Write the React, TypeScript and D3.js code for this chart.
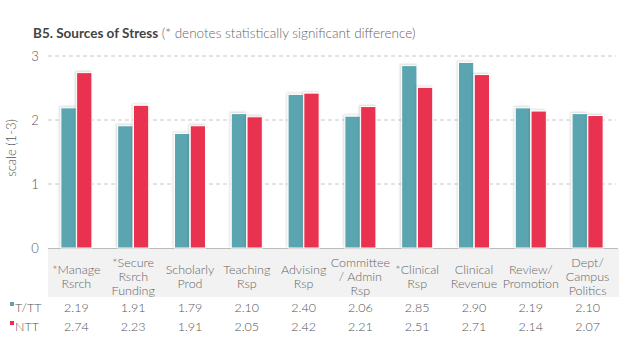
import React from "react";
import * as d3 from "d3";

const categories: string[][] = [
  ["*Manage", "Rsrch"],
  ["*Secure", "Rsrch", "Funding"],
  ["Scholarly", "Prod"],
  ["Teaching", "Rsp"],
  ["Advising", "Rsp"],
  ["Committee", "/ Admin", "Rsp"],
  ["*Clinical", "Rsp"],
  ["Clinical", "Revenue"],
  ["Review/", "Promotion"],
  ["Dept/", "Campus", "Politics"],
];
const seriesNames = ["T/TT", "NTT"];
const tttValues = [2.19, 1.91, 1.79, 2.1, 2.4, 2.06, 2.85, 2.9, 2.19, 2.1];
const nttValues = [2.74, 2.23, 1.91, 2.05, 2.42, 2.21, 2.51, 2.71, 2.14, 2.07];
const yTicks = [0, 1, 2, 3];
const colors = ["#5AA5B0", "#E8314F"];

const W = 636;
const H = 358;
const FONT = "Lato, 'Open Sans', sans-serif";

export default function App() {
  const x = d3
    .scaleBand<number>()
    .domain(d3.range(categories.length))
    .range([48, 616])
    .paddingInner(0)
    .paddingOuter(0);
  const y = d3.scaleLinear().domain([0, 3]).range([248, 56]);
  const sub = d3.scaleBand<number>().domain([0, 1]).range([-16, 16]).padding(0.03);
  const series = [tttValues, nttValues];
  const fmt = d3.format(".2f");

  return (
    <svg
      width={W}
      height={H}
      style={{ position: "absolute", left: 0, top: 0, background: "#fff" }}
      fontFamily={FONT}
    >
      <defs>
        <filter id="sh" x="-30%" y="-10%" width="160%" height="120%">
          <feDropShadow dx="-1" dy="-1" stdDeviation="1.2" floodColor="#000" floodOpacity="0.16" />
        </filter>
      </defs>
      <text x={33} y={38} fontSize={13.5} fill="#444">
        <tspan fontWeight="bold">B5. Sources of Stress</tspan>
        <tspan fill="#666" fontWeight={300}> (* denotes statistically significant difference)</tspan>
      </text>

      {yTicks.filter((t) => t > 0).map((t) => (
        <line
          key={t}
          x1={48}
          x2={616}
          y1={y(t)}
          y2={y(t)}
          stroke="#c8c8c8"
          strokeDasharray="4,3"
          strokeWidth={1}
        />
      ))}
      {yTicks.map((t) => (
        <text key={t} x={35} y={y(t) + 5} fontSize={13} fill="#555" fontWeight={300} textAnchor="middle">
          {t}
        </text>
      ))}
      <text
        transform={`translate(16,${(y(0) + y(3)) / 2 - 4}) rotate(-90)`}
        fontSize={13}
        fill="#555"
        fontWeight={300}
        textAnchor="middle"
      >
        scale (1-3)
      </text>

      <rect x={48} y={249} width={571} height={48} fill="#F2F2F2" />
      <line x1={48} x2={618} y1={248.5} y2={248.5} stroke="#bbb" strokeWidth={1} />

      {series.map((vals, si) =>
        vals.map((v, i) => {
          const cx = (x(i) as number) + x.bandwidth() / 2;
          const bx = cx + (sub(si) as number);
          return (
            <rect
              key={`${si}-${i}`}
              x={bx}
              y={y(v)}
              width={sub.bandwidth()}
              height={y(0) - y(v)}
              fill={colors[si]}
              stroke="#fff"
              strokeWidth={1}
              filter="url(#sh)"
            />
          );
        })
      )}

      {categories.map((lines, i) => {
        const cx = (x(i) as number) + x.bandwidth() / 2;
        const lh = 14;
        const startY = 277 - ((lines.length - 1) * lh) / 2 + 4;
        return (
          <text key={i} x={cx} fontSize={12.5} fill="#666" fontWeight={300} textAnchor="middle">
            {lines.map((l, j) => (
              <tspan key={j} x={cx} y={startY + j * lh}>
                {l}
              </tspan>
            ))}
          </text>
        );
      })}

      {series.map((vals, si) => {
        const ry = si === 0 ? 312 : 331;
        return (
          <g key={si}>
            <rect x={10} y={ry - 10} width={4} height={4} fill={colors[si]} />
            <text x={15} y={ry} fontSize={12.5} fill="#555" fontWeight={300}>
              {seriesNames[si]}
            </text>
            {vals.map((v, i) => (
              <text
                key={i}
                x={(x(i) as number) + x.bandwidth() / 2}
                y={ry}
                fontSize={12.5}
                fill="#555"
                fontWeight={300}
                textAnchor="middle"
              >
                {fmt(v)}
              </text>
            ))}
          </g>
        );
      })}
    </svg>
  );
}
